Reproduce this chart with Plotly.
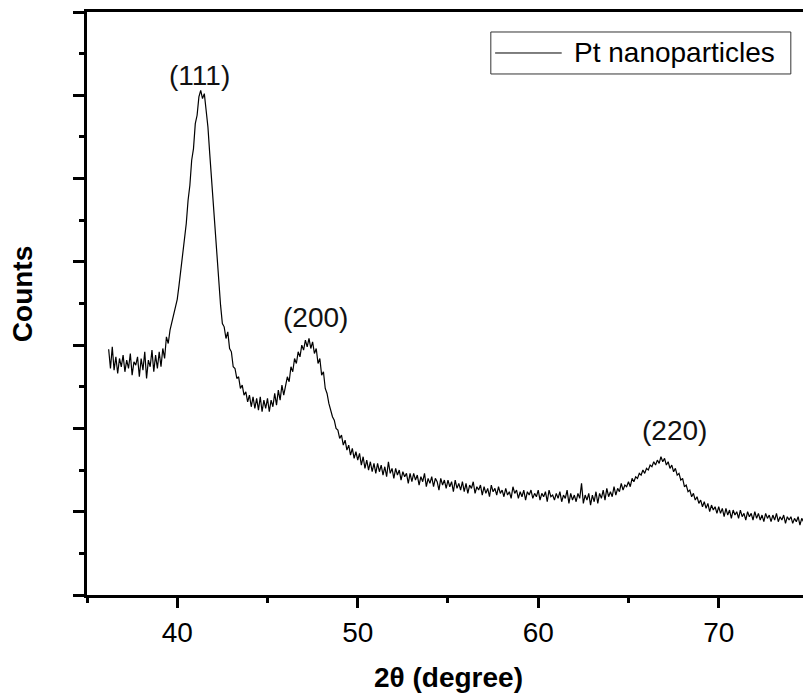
import numpy as np
import plotly.graph_objects as go

# XRD scan of Pt nanoparticles at 0.1 degree steps
scan_start = 36.2
scan_step = 0.1
counts = [
    2.95, 2.72, 2.98, 2.70, 2.86, 2.66, 2.84, 2.74,                  # 36.2-36.9
    2.88, 2.68, 2.82, 2.72, 2.90, 2.64, 2.80, 2.76, 2.86, 2.62,      # 37
    2.84, 2.70, 2.92, 2.60, 2.82, 2.74, 2.94, 2.68, 2.88, 2.72,      # 38
    2.92, 2.74, 2.96, 2.84, 3.10, 3.02, 3.18, 3.28, 3.34, 3.46,      # 39
    3.55, 3.72, 3.90, 4.06, 4.30, 4.46, 4.74, 4.92, 5.22, 5.36,      # 40
    5.66, 5.76, 5.98, 6.06, 5.96, 6.02, 5.82, 5.62, 5.30, 5.00,      # 41
    4.66, 4.38, 4.02, 3.72, 3.48, 3.26, 3.22, 3.08, 3.16, 2.96,      # 42
    2.92, 2.74, 2.72, 2.60, 2.62, 2.48, 2.52, 2.40, 2.44, 2.32,      # 43
    2.40, 2.26, 2.38, 2.24, 2.36, 2.22, 2.38, 2.20, 2.34, 2.24,      # 44
    2.36, 2.20, 2.34, 2.26, 2.42, 2.28, 2.46, 2.34, 2.52, 2.40,      # 45
    2.50, 2.62, 2.56, 2.74, 2.68, 2.84, 2.78, 2.92, 2.86, 3.00,      # 46
    2.94, 3.06, 2.98, 3.08, 2.96, 3.04, 2.90, 2.96, 2.78, 2.84,      # 47
    2.64, 2.68, 2.48, 2.42, 2.30, 2.22, 2.14, 2.10, 2.00, 1.98,      # 48
    1.88, 1.92, 1.80, 1.86, 1.74, 1.80, 1.68, 1.76, 1.64, 1.72,      # 49
    1.62, 1.70, 1.56, 1.66, 1.52, 1.62, 1.50, 1.60, 1.48, 1.58,      # 50
    1.46, 1.58, 1.48, 1.56, 1.44, 1.54, 1.42, 1.60, 1.46, 1.52,      # 51
    1.40, 1.52, 1.44, 1.50, 1.38, 1.48, 1.42, 1.46, 1.34, 1.46,      # 52
    1.36, 1.46, 1.38, 1.44, 1.32, 1.42, 1.36, 1.46, 1.30, 1.40,      # 53
    1.34, 1.42, 1.30, 1.40, 1.36, 1.26, 1.40, 1.32, 1.38, 1.28,      # 54
    1.38, 1.30, 1.36, 1.24, 1.38, 1.28, 1.34, 1.26, 1.36, 1.24,      # 55
    1.34, 1.22, 1.32, 1.28, 1.36, 1.22, 1.30, 1.26, 1.32, 1.20,      # 56
    1.30, 1.22, 1.28, 1.18, 1.32, 1.24, 1.28, 1.20, 1.30, 1.22,      # 57
    1.26, 1.18, 1.28, 1.20, 1.24, 1.16, 1.30, 1.22, 1.26, 1.16,      # 58
    1.24, 1.18, 1.26, 1.14, 1.24, 1.20, 1.26, 1.16, 1.22, 1.18,      # 59
    1.26, 1.14, 1.22, 1.18, 1.24, 1.12, 1.26, 1.18, 1.20, 1.14,      # 60
    1.22, 1.16, 1.24, 1.12, 1.20, 1.16, 1.26, 1.10, 1.22, 1.14,      # 61
    1.20, 1.12, 1.22, 1.16, 1.34, 1.10, 1.20, 1.14, 1.22, 1.08,      # 62
    1.20, 1.12, 1.24, 1.10, 1.22, 1.16, 1.26, 1.14, 1.28, 1.18,      # 63
    1.24, 1.18, 1.30, 1.20, 1.28, 1.24, 1.34, 1.26, 1.32, 1.30,      # 64
    1.36, 1.30, 1.40, 1.36, 1.42, 1.40, 1.46, 1.44, 1.50, 1.46,      # 65
    1.52, 1.50, 1.56, 1.54, 1.60, 1.56, 1.62, 1.58, 1.66, 1.60,      # 66
    1.64, 1.56, 1.60, 1.52, 1.56, 1.48, 1.52, 1.44, 1.46, 1.38,      # 67
    1.40, 1.30, 1.32, 1.24, 1.26, 1.18, 1.22, 1.14, 1.18, 1.10,      # 68
    1.14, 1.06, 1.12, 1.04, 1.10, 1.00, 1.08, 1.02, 1.06, 0.98,      # 69
    1.06, 0.98, 1.04, 0.94, 1.04, 0.96, 1.02, 0.92, 1.02, 0.96,      # 70
    1.00, 0.92, 1.02, 0.94, 0.98, 0.90, 1.00, 0.94, 0.98, 0.90,      # 71
    1.00, 0.92, 0.98, 0.90, 0.96, 0.88, 0.98, 0.92, 0.96, 0.88,      # 72
    0.96, 0.90, 0.98, 0.88, 0.94, 0.90, 0.96, 0.86, 0.94, 0.90,      # 73
    0.94, 0.86, 0.92, 0.88, 0.94, 0.84, 0.92, 0.88,                  # 74.0-74.7
]
two_theta = np.round(scan_start + scan_step * np.arange(len(counts)), 2)

peak_labels = ["(111)", "(200)", "(220)"]
peak_x = [41.25, 47.65, 67.55]
peak_y = [6.24, 3.33, 1.97]

FONT = "Liberation Sans, Arial, sans-serif"
FS = 28

fig = go.Figure()
fig.add_trace(go.Scatter(
    x=two_theta, y=counts,
    mode="lines",
    name="Pt nanoparticles",
    line=dict(color="black", width=1.2),
    showlegend=False
))

for lab, px, py in zip(peak_labels, peak_x, peak_y):
    fig.add_annotation(x=px, y=py, text=lab, showarrow=False,
                       font=dict(family=FONT, size=FS, color="#111"),
                       xanchor="center", yanchor="middle")

# legend box drawn by hand so the line sample is as long as in the reference
fig.add_shape(type="rect", xref="paper", yref="paper",
              x0=0.564, x1=0.983, y0=0.8937, y1=0.9657,
              line=dict(color="#333", width=1), fillcolor="white")
fig.add_shape(type="line", xref="paper", yref="paper",
              x0=0.570, x1=0.663, y0=0.9297, y1=0.9297,
              line=dict(color="black", width=1))
fig.add_annotation(x=0.677, y=0.9297, xref="paper", yref="paper",
                   text="Pt nanoparticles", showarrow=False,
                   xanchor="left", yanchor="middle",
                   font=dict(family=FONT, size=FS, color="black"))

# axis titles
fig.add_annotation(x=0.505, y=-0.1407, xref="paper", yref="paper",
                   text="<b>2θ (degree)</b>", showarrow=False,
                   xanchor="center", yanchor="middle",
                   font=dict(family=FONT, size=FS, color="black"))
fig.add_annotation(x=-0.0908, y=0.516, xref="paper", yref="paper",
                   text="<b>Counts</b>", showarrow=False, textangle=-90,
                   xanchor="center", yanchor="middle",
                   font=dict(family=FONT, size=FS, color="black"))

fig.update_layout(
    width=803, height=693,
    margin=dict(l=87, r=0, t=12, b=98),
    paper_bgcolor="white", plot_bgcolor="white",
    showlegend=False,
    font=dict(family=FONT, size=FS, color="black"),
    xaxis=dict(
        range=[35, 74.67],
        tickvals=[40, 50, 60, 70],
        ticks="outside", ticklen=10, tickwidth=2.5, tickcolor="black",
        minor=dict(tickvals=[35, 45, 55, 65, 75], ticks="outside",
                   ticklen=5, tickwidth=2.5, tickcolor="black"),
        showline=True, linewidth=3, linecolor="black", mirror=True,
        showgrid=False, zeroline=False,
        tickfont=dict(family=FONT, size=FS, color="black"),
    ),
    yaxis=dict(
        range=[0, 7],
        tickvals=[0, 1, 2, 3, 4, 5, 6, 7],
        showticklabels=False,
        ticks="outside", ticklen=11, tickwidth=2.5, tickcolor="black",
        minor=dict(tickvals=[0.5, 1.5, 2.5, 3.5, 4.5, 5.5, 6.5],
                   ticks="outside", ticklen=5, tickwidth=2.5,
                   tickcolor="black"),
        showline=True, linewidth=3, linecolor="black",
        showgrid=False, zeroline=False,
    ),
)

# drop the page's default body margin so the figure sits at the window origin
fig.write_html("out.html",
               config={"displayModeBar": False},
               post_script="document.body.style.margin='0';"
                           "document.body.style.overflow='hidden';")
